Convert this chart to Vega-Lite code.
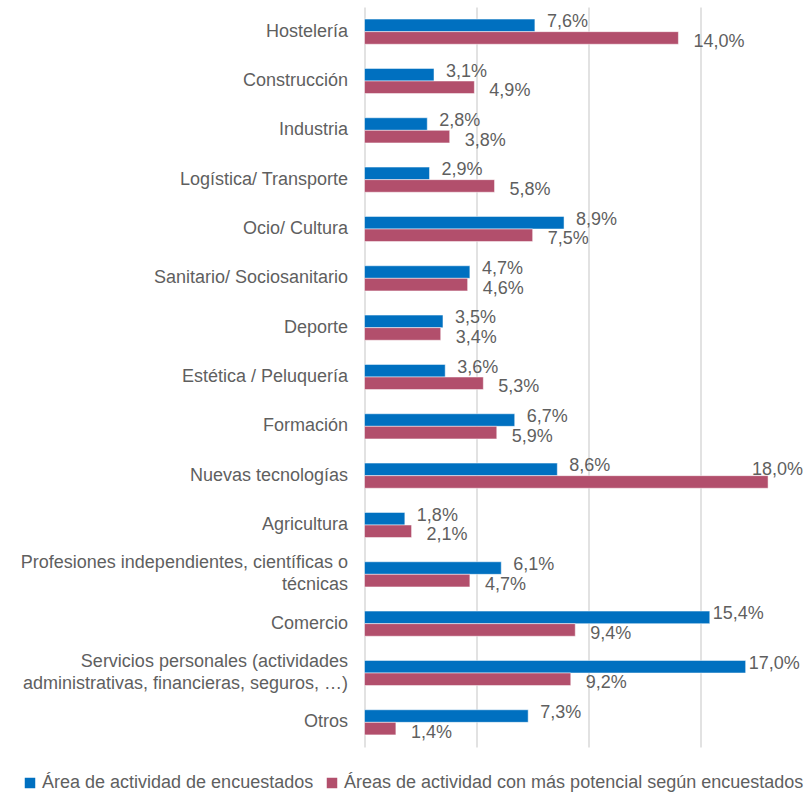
{
  "$schema": "https://vega.github.io/schema/vega-lite/v6.json",
  "autosize": {"type": "none"},
  "padding": {"left": 364.5, "top": 7, "right": 13.5, "bottom": 48},
  "width": 426,
  "height": 740,
  "config": {
    "locale": {"number": {"decimal": ",", "thousands": ".", "grouping": [3], "currency": ["", " €"]}},
    "font": "Liberation Sans",
    "view": {"stroke": null}
  },
  "data": {
    "values": [
      {"cat": "Hostelería", "serie": "Área de actividad de encuestados", "v": 0.076},
      {"cat": "Hostelería", "serie": "Áreas de actividad con más potencial según encuestados", "v": 0.14},
      {"cat": "Construcción", "serie": "Área de actividad de encuestados", "v": 0.031},
      {"cat": "Construcción", "serie": "Áreas de actividad con más potencial según encuestados", "v": 0.049},
      {"cat": "Industria", "serie": "Área de actividad de encuestados", "v": 0.028},
      {"cat": "Industria", "serie": "Áreas de actividad con más potencial según encuestados", "v": 0.038},
      {"cat": "Logística/ Transporte", "serie": "Área de actividad de encuestados", "v": 0.029},
      {"cat": "Logística/ Transporte", "serie": "Áreas de actividad con más potencial según encuestados", "v": 0.058},
      {"cat": "Ocio/ Cultura", "serie": "Área de actividad de encuestados", "v": 0.089},
      {"cat": "Ocio/ Cultura", "serie": "Áreas de actividad con más potencial según encuestados", "v": 0.075},
      {"cat": "Sanitario/ Sociosanitario", "serie": "Área de actividad de encuestados", "v": 0.047},
      {"cat": "Sanitario/ Sociosanitario", "serie": "Áreas de actividad con más potencial según encuestados", "v": 0.046},
      {"cat": "Deporte", "serie": "Área de actividad de encuestados", "v": 0.035},
      {"cat": "Deporte", "serie": "Áreas de actividad con más potencial según encuestados", "v": 0.034},
      {"cat": "Estética / Peluquería", "serie": "Área de actividad de encuestados", "v": 0.036},
      {"cat": "Estética / Peluquería", "serie": "Áreas de actividad con más potencial según encuestados", "v": 0.053},
      {"cat": "Formación", "serie": "Área de actividad de encuestados", "v": 0.067},
      {"cat": "Formación", "serie": "Áreas de actividad con más potencial según encuestados", "v": 0.059},
      {"cat": "Nuevas tecnologías", "serie": "Área de actividad de encuestados", "v": 0.086},
      {"cat": "Nuevas tecnologías", "serie": "Áreas de actividad con más potencial según encuestados", "v": 0.18},
      {"cat": "Agricultura", "serie": "Área de actividad de encuestados", "v": 0.018},
      {"cat": "Agricultura", "serie": "Áreas de actividad con más potencial según encuestados", "v": 0.021},
      {"cat": "Profesiones independientes, científicas o técnicas", "serie": "Área de actividad de encuestados", "v": 0.061},
      {"cat": "Profesiones independientes, científicas o técnicas", "serie": "Áreas de actividad con más potencial según encuestados", "v": 0.047},
      {"cat": "Comercio", "serie": "Área de actividad de encuestados", "v": 0.154},
      {"cat": "Comercio", "serie": "Áreas de actividad con más potencial según encuestados", "v": 0.094},
      {"cat": "Servicios personales (actividades administrativas, financieras, seguros, …)", "serie": "Área de actividad de encuestados", "v": 0.17},
      {"cat": "Servicios personales (actividades administrativas, financieras, seguros, …)", "serie": "Áreas de actividad con más potencial según encuestados", "v": 0.092},
      {"cat": "Otros", "serie": "Área de actividad de encuestados", "v": 0.073},
      {"cat": "Otros", "serie": "Áreas de actividad con más potencial según encuestados", "v": 0.014}
    ]
  },
  "encoding": {
    "y": {
      "field": "cat", "type": "nominal", "sort": null,
      "scale": {"paddingInner": 0.49, "paddingOuter": 0.245},
      "axis": {
        "title": null, "domain": false, "ticks": false,
        "labelFontSize": 18, "labelColor": "#5f5f5f", "labelPadding": 17,
        "labelLimit": 400, "labelLineHeight": 22,
        "labelOffset": {"condition": {"test": "indexof(datum.value, 'Profesiones') == 0 || indexof(datum.value, 'Servicios') == 0", "value": -11}, "value": 0},
        "labelExpr": "datum.value == 'Profesiones independientes, científicas o técnicas' ? ['Profesiones independientes, científicas o', 'técnicas'] : datum.value == 'Servicios personales (actividades administrativas, financieras, seguros, …)' ? ['Servicios personales (actividades', 'administrativas, financieras, seguros, …)'] : datum.value"
      }
    },
    "x": {
      "field": "v", "type": "quantitative",
      "scale": {"domain": [0, 0.19], "nice": false},
      "axis": {
        "title": null, "labels": false, "ticks": false, "domain": false,
        "values": [0, 0.05, 0.1, 0.15],
        "grid": true, "gridColor": "#D9D9D9", "gridWidth": 1.5
      }
    },
    "yOffset": {"field": "serie", "type": "nominal", "sort": ["Área de actividad de encuestados", "Áreas de actividad con más potencial según encuestados"]}
  },
  "layer": [
    {
      "mark": {"type": "bar", "stroke": "white", "strokeWidth": 0.5},
      "encoding": {
        "color": {
          "field": "serie", "type": "nominal",
          "scale": {"domain": ["Área de actividad de encuestados", "Áreas de actividad con más potencial según encuestados"], "range": ["#0070C0", "#B24F6C"]},
          "legend": {
            "title": null, "orient": "none", "direction": "horizontal",
            "legendX": -343.5, "legendY": 767,
            "symbolType": "square", "symbolSize": 110, "symbolStrokeWidth": 0,
            "labelFontSize": 18, "labelColor": "#5f5f5f", "labelOffset": 3,
            "columnPadding": 9, "labelLimit": 500
          }
        }
      }
    },
    {
      "transform": [{"filter": "datum.serie == 'Área de actividad de encuestados'"}],
      "mark": {"type": "text", "align": "left", "baseline": "middle", "dx": {"expr": "datum.v >= 0.15 ? 3 : 12"}, "dy": -3, "fontSize": 18, "color": "#5f5f5f"},
      "encoding": {
        "text": {"field": "v", "type": "quantitative", "format": ".1%"}
      }
    },
    {
      "transform": [{"filter": "datum.serie != 'Área de actividad de encuestados'"}],
      "mark": {"type": "text", "align": "left", "baseline": "middle", "dx": {"expr": "datum.v > 0.175 ? -16 : 15"}, "dy": {"expr": "datum.v > 0.175 ? -12 : 4"}, "fontSize": 18, "color": "#5f5f5f"},
      "encoding": {
        "text": {"field": "v", "type": "quantitative", "format": ".1%"}
      }
    }
  ]
}
